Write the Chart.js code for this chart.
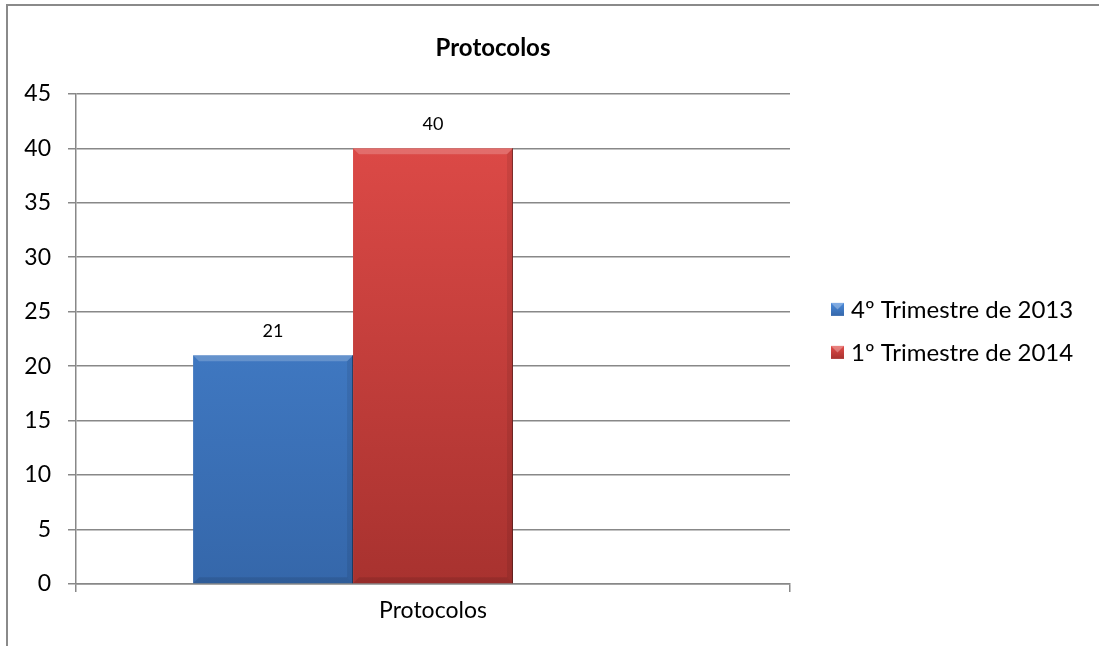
<!DOCTYPE html>
<html>
<head>
<meta charset="utf-8">
<script src="https://cdn.jsdelivr.net/npm/chart.js@4.4.1/dist/chart.umd.min.js"></script>
<style>
  html, body { margin: 0; padding: 0; background: #fff; }
  #wrap { position: relative; width: 1099px; height: 646px; overflow: hidden; }
  #frame { position: absolute; left: 6px; top: 4px; width: 1200px; height: 800px;
           border-left: 2px solid #8a8a8a; border-top: 2px solid #8a8a8a; pointer-events: none; }
  canvas { position: absolute; left: 0; top: 0; }
</style>
</head>
<body>
<div id="wrap">
  <canvas id="chart" width="1099" height="646"></canvas>
  <div id="frame"></div>
</div>
<script>
// Données
const categories = ['Protocolos'];
const seriesLabels = ['4º Trimestre de 2013', '1º Trimestre de 2014', ''];
const trim4_2013 = [21];
const trim1_2014 = [40];
const emptySeries = [null]; // série vide d'Excel (décale le groupe à gauche)
const yTicks = [0, 5, 10, 15, 20, 25, 30, 35, 40, 45];

// couleurs (haut / bas du dégradé)
const barColors = [
    ['#4a8ada', '#3567aa'],
    ['#e24c49', '#a8322f']
];

Chart.defaults.font.family = 'Lato, "Open Sans", sans-serif';
Chart.defaults.color = '#000';

function barGradient(ctx, i) {
    const chart = ctx.chart;
    const area = chart.chartArea;
    if (!area) return barColors[i][0];
    const g = chart.ctx.createLinearGradient(0, area.top, 0, area.bottom);
    g.addColorStop(0, barColors[i][0]);
    g.addColorStop(1, barColors[i][1]);
    return g;
}

// petit effet de biseau + étiquettes de valeur
const barDecor = {
    id: 'barDecor',
    afterDatasetsDraw(chart) {
        const c = chart.ctx;
        chart.data.datasets.forEach((ds, di) => {
            const meta = chart.getDatasetMeta(di);
            meta.data.forEach((el, i) => {
                const v = ds.data[i];
                if (v == null) return;
                const left = el.x - el.width / 2, right = el.x + el.width / 2;
                const top = el.y, bottom = el.base;
                const b = 6;
                c.save();
                // haut clair
                c.fillStyle = 'rgba(255,255,255,0.2)';
                c.beginPath();
                c.moveTo(left, top); c.lineTo(right, top);
                c.lineTo(right - b, top + b); c.lineTo(left + b, top + b);
                c.closePath(); c.fill();
                // côté droit et bas un peu plus sombres
                c.fillStyle = 'rgba(0,0,0,0.08)';
                c.beginPath();
                c.moveTo(right, top); c.lineTo(right, bottom);
                c.lineTo(right - b, bottom - b); c.lineTo(right - b, top + b);
                c.closePath(); c.fill();
                c.fillStyle = 'rgba(0,0,0,0.1)';
                c.beginPath();
                c.moveTo(left, bottom); c.lineTo(right, bottom);
                c.lineTo(right - b, bottom - b); c.lineTo(left + b, bottom - b);
                c.closePath(); c.fill();
                c.strokeStyle = 'rgba(0,0,0,0.4)';
                c.lineWidth = 1;
                c.beginPath();
                c.moveTo(right - 0.5, top); c.lineTo(right - 0.5, bottom);
                c.stroke();
                // valeur
                c.fillStyle = '#000';
                c.font = '18px Lato, sans-serif';
                c.textAlign = 'center';
                c.textBaseline = 'middle';
                c.fillText(String(v), el.x, top - 24);
                c.restore();
            });
        });
    }
};

// légende dessinée à droite
const sideLegend = {
    id: 'sideLegend',
    afterDraw(chart) {
        const c = chart.ctx;
        const area = chart.chartArea;
        const items = chart.data.datasets.filter(ds => ds.label);
        const rowH = 43, box = 13;
        const x = area.right + 41;
        let y = (area.top + area.bottom) / 2 - 8 - (items.length - 1) * rowH / 2;
        items.forEach((ds, i) => {
            c.save();
            const g = c.createLinearGradient(0, y - box / 2, 0, y + box / 2);
            g.addColorStop(0, barColors[i][0]);
            g.addColorStop(1, barColors[i][1]);
            c.fillStyle = g;
            c.fillRect(x, y - box / 2, box, box);
            c.fillStyle = 'rgba(255,255,255,0.3)';
            c.beginPath();
            c.moveTo(x, y - box / 2); c.lineTo(x + box, y - box / 2);
            c.lineTo(x + box / 2, y); c.closePath(); c.fill();
            c.fillStyle = '#000';
            c.font = '24px Lato, sans-serif';
            c.textAlign = 'left';
            c.textBaseline = 'middle';
            c.fillText(ds.label, x + box + 7, y + 1);
            c.restore();
            y += rowH;
        });
    }
};

new Chart(document.getElementById('chart'), {
    type: 'bar',
    data: {
        labels: categories,
        datasets: [
            { label: seriesLabels[0], data: trim4_2013, backgroundColor: ctx => barGradient(ctx, 0) },
            { label: seriesLabels[1], data: trim1_2014, backgroundColor: ctx => barGradient(ctx, 1) },
            { label: seriesLabels[2], data: emptySeries, backgroundColor: 'rgba(0,0,0,0)' }
        ]
    },
    options: {
        responsive: false,
        animation: false,
        events: [],
        categoryPercentage: 0.672,
        barPercentage: 1,
        layout: { padding: { left: 0, top: 0, right: 113, bottom: 0 } },
        plugins: {
            legend: { display: false },
            tooltip: { enabled: false },
            title: {
                display: true,
                text: 'Protocolos',
                font: { size: 24, weight: 'bold' },
                color: '#000',
                padding: { top: 34, bottom: 31 }
            }
        },
        scales: {
            x: {
                grid: { display: true, drawOnChartArea: false, color: '#888', tickLength: 8, lineWidth: 1.5 },
                border: { display: true, color: '#888', width: 1.5 },
                ticks: { font: { size: 23 }, color: '#000', padding: 5 },
                afterFit: s => { s.height = 62; }
            },
            y: {
                min: 0,
                max: 45,
                afterBuildTicks: s => { s.ticks = yTicks.map(v => ({ value: v })); },
                grid: { color: '#888', lineWidth: 1.5, tickLength: 8 },
                border: { display: true, color: '#888', width: 1.5 },
                ticks: { font: { size: 23 }, color: '#000', padding: 17 },
                afterFit: s => { s.width = 76; }
            },
            y2: {
                position: 'right',
                display: true,
                grid: { display: false },
                border: { display: false },
                ticks: { display: false },
                afterFit: s => { s.width = 196; }
            }
        }
    },
    plugins: [barDecor, sideLegend]
});
</script>
</body>
</html>
